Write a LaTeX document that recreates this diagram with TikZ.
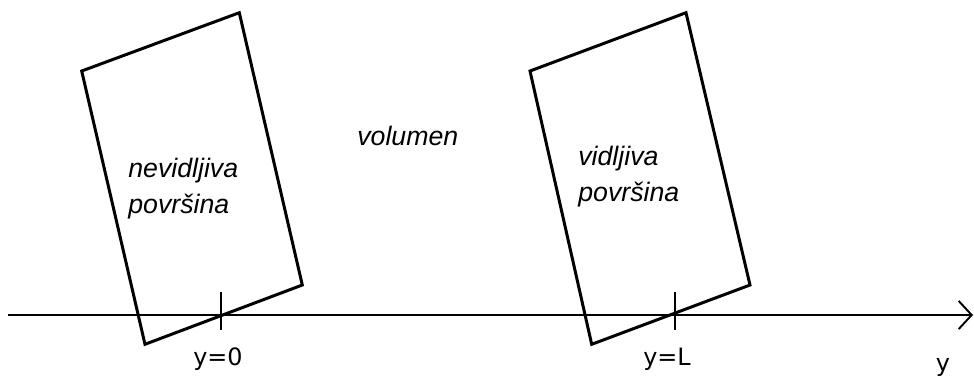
\documentclass[tikz,border=0pt]{standalone}
\usepackage{fontspec}
\setmainfont{Liberation Sans}
\newfontfamily\axisfont{DejaVu Sans}
\usetikzlibrary{arrows.meta}

\begin{document}
\begin{tikzpicture}[
    x=0.02cm, y=-0.02cm,
    surf/.style={line width=1.7pt, line join=miter},
    axis/.style={line width=1.1pt, -{Straight Barb[length=7.4pt, width=16pt]}},
    tick/.style={line width=1.1pt},
    lbl/.style={font=\fontsize{15.2}{17.6}\selectfont\itshape, inner sep=0pt, align=left},
    axlbl/.style={font=\axisfont\fontsize{13.6}{15}\selectfont, inner sep=0pt},
]
\useasboundingbox (0,0) rectangle (974,380);
% === The two tilted surfaces ===
\coordinate (inTL) at (81.7,71);
\coordinate (inTR) at (239.3,12.7);
\coordinate (inBR) at (302.3,285);
\coordinate (inBL) at (145,344.3);
\draw[surf] (inTL) -- (inTR) -- (inBR) -- (inBL) -- cycle;
\coordinate (visTL) at (530,71);
\coordinate (visTR) at (686,12.7);
\coordinate (visBR) at (750,285);
\coordinate (visBL) at (591.7,344.3);
\draw[surf] (visTL) -- (visTR) -- (visBR) -- (visBL) -- cycle;
% === y axis with the two marks ===
\coordinate (ystart) at (8,315);
\coordinate (yend) at (973,315);
\draw[axis] (ystart) -- (yend);
\coordinate (mark0) at (221,315);
\coordinate (markL) at (675,315);
\draw[tick] (mark0) +(0,-23) -- +(0,15);
\draw[tick] (markL) +(0,-23) -- +(0,15);
% === Labels ===
\node[lbl, anchor=base west] (invis) at (128,213) {nevidljiva\\[2.4pt]površina};
\node[lbl, anchor=base west] (vis) at (578,201) {vidljiva\\[2.4pt]površina};
\node[lbl, anchor=base west] (vol) at (357,145) {volumen};
\node[axlbl, anchor=base] (lbl0) at (218,365) {y=0};
\node[axlbl, anchor=base] (lblL) at (667,365) {y=L};
\node[axlbl, anchor=base] (lbly) at (943,371) {y};
\end{tikzpicture}
\end{document}
